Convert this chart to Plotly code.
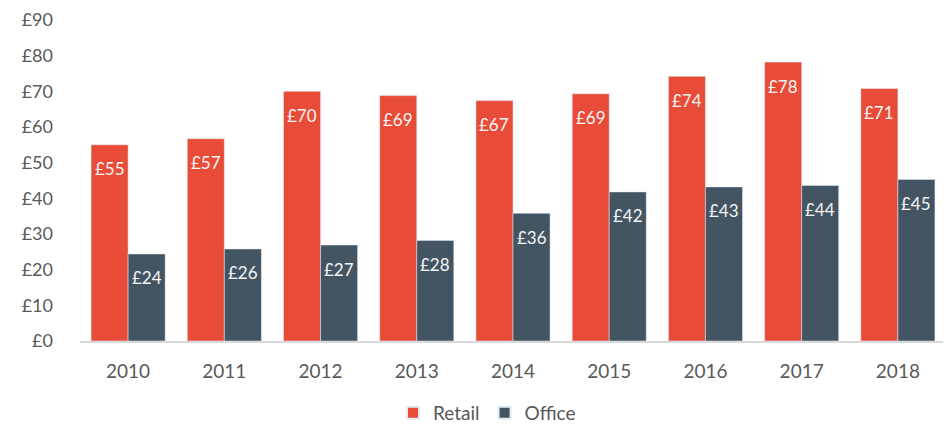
import plotly.graph_objects as go

years = ['2010', '2011', '2012', '2013', '2014', '2015', '2016', '2017', '2018']
retail = [55.0, 56.7, 70.0, 68.8, 67.4, 69.3, 74.2, 78.2, 70.8]
office = [24.4, 25.8, 26.9, 28.2, 35.8, 41.8, 43.2, 43.6, 45.3]
y_ticks = [0, 10, 20, 30, 40, 50, 60, 70, 80, 90]

RETAIL_COL = '#E84C38'
OFFICE_COL = '#435563'
FONT = 'Lato'
BARGAP = 0.23

fig = go.Figure()
fig.add_trace(go.Bar(x=years, y=retail, name='Retail', marker_color=RETAIL_COL))
fig.add_trace(go.Bar(x=years, y=office, name='Office', marker_color=OFFICE_COL))

# value labels sit a little below the top of each bar
half = (1 - BARGAP) / 4
annotations = []
for i in range(len(years)):
    for val, off in ((retail[i], -half), (office[i], half)):
        annotations.append(dict(x=i + off, y=val, xref='x', yref='y', yshift=-24,
                                text=f'£{round(val)}', showarrow=False,
                                font=dict(color='#F5F5F5', size=17, family=FONT)))

# page body adds an 8px margin, so the figure is a little smaller than the window
fig.update_layout(
    barmode='group', bargap=BARGAP, bargroupgap=0,
    width=943, height=420, margin=dict(l=72, r=5, t=12, b=87, autoexpand=False),
    plot_bgcolor='white', paper_bgcolor='white',
    font=dict(family=FONT, color='#595959', size=18),
    annotations=annotations,
    xaxis=dict(showline=True, linecolor='#D9D9D9', linewidth=2, ticks='',
               ticklabelstandoff=12, tickfont=dict(size=19), automargin=False),
    yaxis=dict(range=[0, 90], tickvals=y_ticks, ticktext=[f'£{v}' for v in y_ticks],
               showgrid=False, zeroline=False, ticklabelstandoff=26,
               tickfont=dict(size=18), automargin=False, ticklabeloverflow='allow'),
    legend=dict(orientation='h', x=0.47, xanchor='center', y=-0.224, yanchor='middle',
                font=dict(size=19), itemwidth=30, itemsizing='constant'),
    showlegend=True,
)

fig.write_html('out.html')
